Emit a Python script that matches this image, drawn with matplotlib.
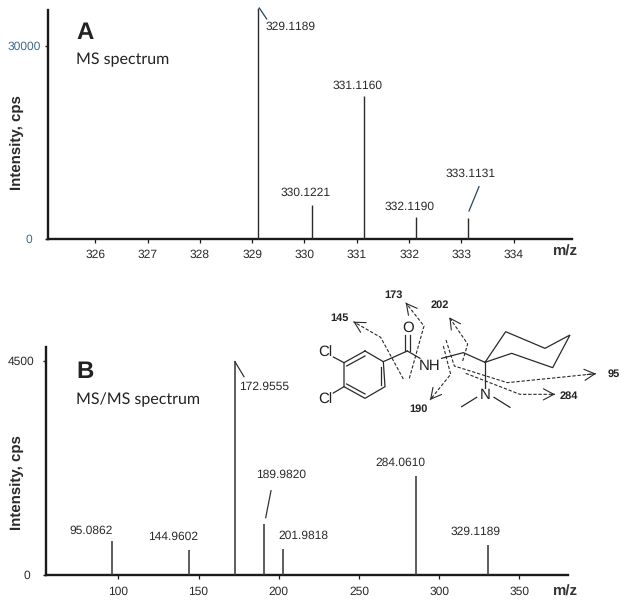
import matplotlib
matplotlib.use("Agg")
import matplotlib.pyplot as plt

W, H = 628, 604
plt.rcParams['font.family'] = ['Liberation Sans', 'DejaVu Sans']
plt.rcParams['text.hinting'] = 'none'
plt.rcParams['text.hinting_factor'] = 1

# ---- data ----
ms_mz = [329.12, 330.14, 331.13, 332.14, 333.13]
ms_int = [35860, 5285, 22230, 3326, 3170]
ms_labels = ["329.1189", "330.1221", "331.1160", "332.1190", "333.1131"]
ms_xticks = [326, 327, 328, 329, 330, 331, 332, 333, 334]
ms_yticks = [0, 30000]

msms_mz = [96.3, 143.9, 172.8, 190.8, 202.9, 285.6, 330.3]
msms_int = [714, 525, 4500, 1071, 546, 2085, 624]
msms_labels = ["95.0862", "144.9602", "172.9555", "189.9820", "201.9818", "284.0610", "329.1189"]
msms_xticks = [100, 150, 200, 250, 300, 350]
msms_yticks = [0, 4500]

# ---- layout (pixels) ----
ms_label_pos = [(290.7, 26.7), (306, 193), (357.3, 85.7), (410, 206.7), (470.3, 173.7)]
msms_label_pos = [(91.3, 530.3), (172.7, 536.7), (264.3, 386.3), (281, 474.7),
                  (303.3, 536), (400.7, 462.7), (476, 531.7)]
ms_leaders = [((259.3, 8), (266.7, 19)), ((479, 186.7), (469, 211))]
msms_leaders = [((235, 361.7), (244, 376.7)), ((271, 490.7), (265.7, 517.7))]

DARK = '#2a2a2a'
BLUE = '#3f6a8c'
LINE = '#1f4a66'


def make_axes(left, right, bottom, top):
    return fig.add_axes([left / W, 1 - bottom / H, (right - left) / W, (bottom - top) / H])


def style(ax, mz, vals, xticks, yticks, color, lw):
    ax.vlines(mz, 0, vals, color=color, lw=lw, clip_on=False, zorder=3)
    for s in ('top', 'right'):
        ax.spines[s].set_visible(False)
    for s in ('left', 'bottom'):
        ax.spines[s].set_linewidth(1.7)
        ax.spines[s].set_color('#1a1a1a')
    ax.set_xticks(xticks)
    ax.set_yticks(yticks)
    ax.tick_params(axis='x', length=3.2, width=0.9, labelsize=8.8, labelcolor=DARK, pad=4.5, color='#1a1a1a')
    ax.tick_params(axis='y', length=2.5, width=1.0, labelsize=8.8, labelcolor=DARK, color='#1a1a1a')
    ax.patch.set_alpha(0)


fig = plt.figure(figsize=(W / 100, H / 100), dpi=100, facecolor='white')

# Panel A
axA = make_axes(47.5, 571.7, 238.7, 10)
axA.set_xlim(325.086, 335.11)
axA.set_ylim(0, 35550)
style(axA, ms_mz, ms_int, ms_xticks, ms_yticks, '#2a2a2a', 1.0)
axA.tick_params(axis='y', labelcolor=BLUE)
axA.yaxis.get_major_ticks()[0].set_pad(8.6)
axA.yaxis.get_major_ticks()[1].set_pad(2.2)
axA.set_ylabel("Intensity, cps", fontsize=10.5, fontweight='bold', color=DARK, va='center')
axA.yaxis.set_label_coords((16.7 - 47.5) / 524.2, (238.7 - 143) / 228.7)
axA.set_xlabel("m/z", fontsize=10.8, fontweight='bold', color='#333333', va='center')
axA.xaxis.set_label_coords((565 - 47.5) / 524.2, (238.7 - 251.7) / 228.7)

# Panel B
axB = make_axes(45.7, 568, 575, 347)
axB.set_xlim(100 + (45.7 - 118.3) / 1.604, 100 + (568 - 118.3) / 1.604)
axB.set_ylim(0, 4500 * 228 / 214.3)
style(axB, msms_mz, msms_int, msms_xticks, msms_yticks, '#3a3a3a', 1.15)
axB.yaxis.get_major_ticks()[0].set_pad(8.8)
axB.yaxis.get_major_ticks()[1].set_pad(5.9)
axB.set_ylabel("Intensity, cps", fontsize=10.5, fontweight='bold', color=DARK, va='center')
axB.yaxis.set_label_coords((16.7 - 45.7) / 522.3, (575 - 482.3) / 228)
axB.set_xlabel("m/z", fontsize=10.8, fontweight='bold', color='#333333', va='center')
axB.xaxis.set_label_coords((565 - 45.7) / 522.3, (575 - 591.7) / 228)

# Overlay in pixel coordinates for annotations and the structure sketch
ov = fig.add_axes([0, 0, 1, 1])
ov.set_xlim(0, W)
ov.set_ylim(H, 0)
ov.axis('off')

for s, (x, y) in zip(ms_labels + msms_labels, ms_label_pos + msms_label_pos):
    ov.text(x, y, s, ha='center', va='center', fontsize=8.8, color=DARK)
for (p, q) in ms_leaders:
    ov.plot([p[0], q[0]], [p[1], q[1]], color=LINE, lw=0.9)
for (p, q) in msms_leaders:
    ov.plot([p[0], q[0]], [p[1], q[1]], color='#333333', lw=0.9)

for letter, tx, y, sub, sy in [("A", 76, 32.7, "MS spectrum", 60),
                               ("B", 76, 372, "MS/MS spectrum", 400)]:
    ov.text(tx, y, letter, fontsize=17.5, fontweight='bold', family='Liberation Sans', color='#222222', ha='left', va='center')
    ov.text(tx, sy, sub, fontsize=11.6, family='Lato', color='#222222', ha='left', va='center')


# Structure sketch (coordinates on a 3x grid anchored at x=320, y=280)
def P(pt):
    return 320 + pt[0] / 3, 280 + pt[1] / 3


solid_paths = [
    [(135, 213), (190, 245), (195, 320), (135, 355), (72, 320), (72, 248), (135, 213)],
    [(80, 258), (135, 228)], [(183, 262), (183, 315)], [(80, 312), (135, 342)],
    [(72, 248), (40, 231)], [(72, 320), (40, 339)],
    [(190, 245), (262, 213)], [(256, 213), (256, 165)], [(270, 213), (270, 165)],
    [(262, 213), (300, 235)], [(365, 235), (430, 218), (495, 247)],
    [(495, 247), (557, 155), (675, 205), (750, 165), (698, 263), (575, 220), (495, 247)],
    [(495, 247), (495, 325)], [(470, 352), (425, 380)], [(522, 352), (570, 382)],
]
for path in solid_paths:
    pts = [P(p) for p in path]
    ov.plot([p[0] for p in pts], [p[1] for p in pts], color='#2a2a2a', lw=0.9, solid_joinstyle='miter')

dashed_paths = [
    [(250, 297), (182, 172), (100, 125)],
    [(268, 295), (312, 138), (257, 68)],
    [(428, 243), (443, 192), (388, 112)],
    [(370, 198), (392, 283), (330, 360)],
    [(378, 180), (403, 258), (562, 308), (828, 281)],
    [(437, 280), (600, 343), (705, 343)],
]
for path in dashed_paths:
    pts = [P(p) for p in path]
    ov.plot([p[0] for p in pts], [p[1] for p in pts], color='#2a2a2a', lw=0.8, ls=(0, (3, 1.6)))
    ov.annotate('', xy=pts[-1], xytext=(pts[-1][0] + (pts[-2][0] - pts[-1][0]) * 0.1,
                                        pts[-1][1] + (pts[-2][1] - pts[-1][1]) * 0.1),
                arrowprops=dict(arrowstyle='->,head_length=0.75,head_width=0.4', lw=0.8,
                                color='#2a2a2a', shrinkA=0, shrinkB=0))

for s, p, fs in [("O", (263, 143), 10.5), ("NH", (330, 258), 10.5), ("N", (495, 345), 10.5),
                 ("Cl", (15, 218), 10.5), ("Cl", (15, 360), 10.5)]:
    x, y = P(p)
    ov.text(x, y, s, fontsize=fs, ha='center', va='center', color='#222222', family='Liberation Sans')

for s, p in [("145", (58, 113)), ("173", (220, 46)), ("202", (358, 75)),
             ("190", (297, 387)), ("95", (882, 281)), ("284", (747, 347))]:
    x, y = P(p)
    ov.text(x, y, s, fontsize=7.8, fontweight='bold', ha='center', va='center', color='#222222', family='Liberation Sans')

fig.savefig('out.png', dpi=100, facecolor='white')
